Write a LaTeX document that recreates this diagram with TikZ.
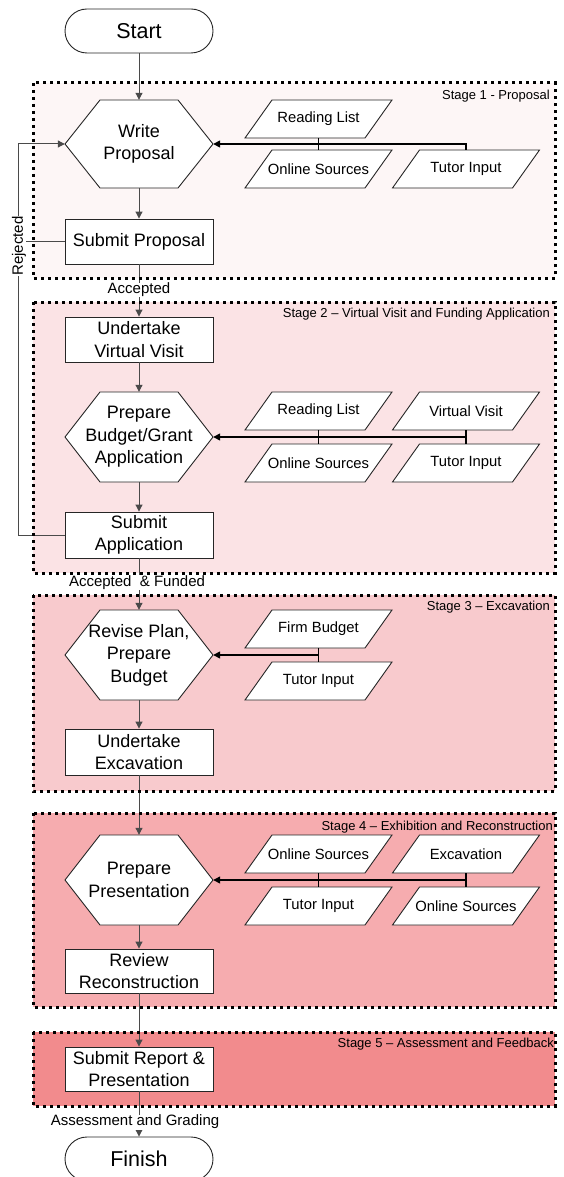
\documentclass[tikz,border=0pt]{standalone}
\usepackage{fontspec}
\setmainfont{Liberation Sans}
\usetikzlibrary{arrows.meta}

\definecolor{stageA}{HTML}{FDF6F6}
\definecolor{stageB}{HTML}{FBE3E5}
\definecolor{stageC}{HTML}{F8CACD}
\definecolor{stageD}{HTML}{F6ACAF}
\definecolor{stageE}{HTML}{F28B8D}
\definecolor{flowgray}{HTML}{4A4A4A}

\tikzset{
  stageborder/.style={draw=black, line width=3pt, dash pattern=on 3pt off 4pt},
  stagelabel/.style={anchor=east, inner sep=0pt, font=\fontsize{13}{15}\selectfont},
  procbox/.style={draw=black!85, line width=0.9pt, fill=white, minimum width=148pt,
    inner sep=0pt, align=center, font=\fontsize{18}{22.5}\selectfont},
  hexbox/.style={minimum width=148pt, inner sep=0pt, align=center,
    font=\fontsize{18}{22.5}\selectfont},
  hexline/.style={draw=black!85, line width=0.9pt, fill=white},
  inbox/.style={minimum width=147pt, minimum height=38pt, inner sep=0pt,
    font=\fontsize{14.8}{17}\selectfont},
  termbox/.style={draw=black!85, line width=0.9pt, fill=white, rounded corners=22pt,
    minimum width=148pt, minimum height=44pt, inner sep=0pt,
    font=\fontsize{21.5}{24}\selectfont},
  flow/.style={draw=flowgray, line width=1pt},
  feed/.style={draw=black, line width=1.4pt},
  tip/.style={-{Triangle[length=7pt,width=7pt]}},
  flowlabel/.style={fill=white, inner sep=0.5pt, font=\fontsize{15}{17}\selectfont},
}

% hexagonal process step: name, centre x, centre y, height, text
\newcommand\hexstep[5]{%
  \path[hexline] (#2-74,#3) -- (#2-39,#3-#4/2) -- (#2+39,#3-#4/2) -- (#2+74,#3)
    -- (#2+39,#3+#4/2) -- (#2-39,#3+#4/2) -- cycle;
  \node[hexbox, minimum height=#4pt] (#1) at (#2,#3) {#5};}

% slanted input document: name, centre x, centre y, text
\newcommand\inputdoc[4]{%
  \path[hexline] (#2-46.5,#3-19) -- (#2+73.5,#3-19) -- (#2+46.5,#3+19)
    -- (#2-73.5,#3+19) -- cycle;
  \node[inbox] (#1) at (#2,#3) {#4};}

\begin{document}
\begin{tikzpicture}[x=1pt, y=-1pt]
\useasboundingbox (0,0) rectangle (564,1177);

% stage backgrounds
\fill[stageA] (33,83) rectangle (555,278);
\fill[stageB] (33,302) rectangle (555,573);
\fill[stageC] (33,595) rectangle (555,791);
\fill[stageD] (33,813) rectangle (555,1007);
\fill[stageE] (33,1032) rectangle (555,1106);

% terminals
\node[termbox] (start) at (139,31) {Start};
\node[termbox] (finish) at (139,1159) {Finish};

% stage 1
\hexstep{write}{139}{144}{88}{Write\\Proposal}
\node[procbox, minimum height=45pt] (subprop) at (139,241.5) {Submit Proposal};
\inputdoc{rl1}{318.5}{119}{Reading List}
\inputdoc{os1}{318.5}{169}{Online Sources}
\inputdoc{ti1}{466}{169}{Tutor Input}

% stage 2
\node[procbox, minimum height=45pt] (visit) at (139,339.5) {Undertake\\Virtual Visit};
\hexstep{budget}{139}{437}{90}{Prepare\\Budget/Grant\\Application}
\inputdoc{rl2}{318.5}{411}{Reading List}
\inputdoc{vv2}{466}{411}{Virtual Visit}
\inputdoc{os2}{318.5}{463}{Online Sources}
\inputdoc{ti2}{466}{463}{Tutor Input}
\node[procbox, minimum height=46pt] (subapp) at (139,535) {Submit\\Application};

% stage 3
\hexstep{revise}{139}{655}{90}{Revise Plan,\\Prepare\\Budget}
\inputdoc{fb3}{318.5}{629}{Firm Budget}
\inputdoc{ti3}{318.5}{681}{Tutor Input}
\node[procbox, minimum height=46pt] (excav) at (139,752) {Undertake\\Excavation};

% stage 4
\hexstep{present}{139}{880}{90}{Prepare\\Presentation}
\inputdoc{os4}{318.5}{854}{Online Sources}
\inputdoc{ex4}{466}{854}{Excavation}
\inputdoc{ti4}{318.5}{906}{Tutor Input}
\inputdoc{os4b}{466}{906}{Online Sources}
\node[procbox, minimum height=44pt] (review) at (139,971) {Review\\Reconstruction};

% stage 5
\node[procbox, minimum height=44pt] (report) at (139,1069) {Submit Report \&\\Presentation};

% main flow
\draw[flow,tip] (start) -- (write);
\draw[flow,tip] (write) -- (subprop);
\draw[flow,tip] (subprop) -- (visit);
\draw[flow,tip] (visit) -- (budget);
\draw[flow,tip] (budget) -- (subapp);
\draw[flow,tip] (subapp) -- (revise);
\draw[flow,tip] (revise) -- (excav);
\draw[flow,tip] (excav) -- (present);
\draw[flow,tip] (present) -- (review);
\draw[flow,tip] (review) -- (report);
\draw[flow,tip] (report) -- (finish);

% rejection loop back to the proposal
\coordinate (loop) at (18,241.5);
\draw[flow] (subprop.west) -- (loop);
\draw[flow,tip] (subapp.west) -- (loop |- subapp.west) -- (loop |- write.west) -- (write.west);

% inputs feeding the process steps
\draw[feed] (rl1.south) -- (os1.north);
\draw[feed,tip] (ti1.north) |- (write.east);
\draw[feed] (rl2.south) -- (os2.north);
\draw[feed] (vv2.south) -- (ti2.north);
\draw[feed,tip] (vv2.south |- budget.east) -- (budget.east);
\draw[feed] (fb3.south) -- (ti3.north);
\draw[feed,tip] (fb3.south |- revise.east) -- (revise.east);
\draw[feed] (os4.south) -- (ti4.north);
\draw[feed] (ex4.south) -- (os4b.north);
\draw[feed,tip] (ex4.south |- present.east) -- (present.east);

% flow labels
\node[flowlabel, rotate=90] (rej) at (19,246) {Rejected};
\node[flowlabel] (acc) at (139,290) {Accepted};
\node[flowlabel] (accf) at (137,582.5) {Accepted\ \ \& Funded};
\node[flowlabel] (grade) at (135,1122) {Assessment and Grading};

% stage borders and titles
\draw[stageborder] (33,83) rectangle (555,278);
\draw[stageborder] (33,302) rectangle (555,573);
\draw[stageborder] (33,595) rectangle (555,791);
\draw[stageborder] (33,813) rectangle (555,1007);
\draw[stageborder] (33,1032) rectangle (555,1106);
\node[stagelabel] (s1) at (550,96) {Stage 1 - Proposal};
\node[stagelabel] (s2) at (550,314) {Stage 2 – Virtual Visit and Funding Application};
\node[stagelabel] (s3) at (550,607) {Stage 3 – Excavation};
\node[stagelabel] (s4) at (553,827) {Stage 4 – Exhibition and Reconstruction};
\node[stagelabel] (s5) at (554,1044) {Stage 5 – Assessment and Feedback};
\end{tikzpicture}
\end{document}
